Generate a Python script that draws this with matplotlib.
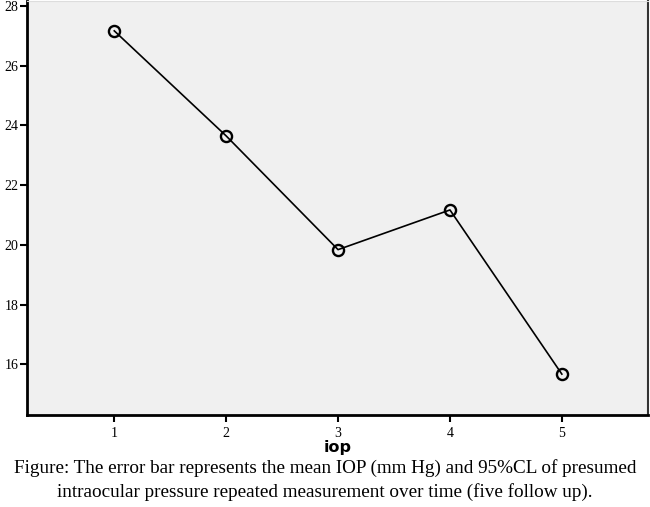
import matplotlib
matplotlib.use("Agg")
import matplotlib.pyplot as plt

# Данные: средний ВГД по визитам
visits = [1, 2, 3, 4, 5]
iop_mean = [27.17, 23.65, 19.84, 21.17, 15.67]
y_ticks = [16, 18, 20, 22, 24, 26, 28]

caption = ("Figure: The error bar represents the mean IOP (mm Hg) and 95%CL of presumed\n"
           "intraocular pressure repeated measurement over time (five follow up).")

fig = plt.figure(figsize=(6.5, 5.07), dpi=100)
ax = fig.add_axes([27 / 650, (507 - 415) / 507, 621 / 650, 414 / 507])
ax.set_facecolor("#f0f0f0")

ax.plot(visits, iop_mean, color="black", linewidth=1.2,
        marker="o", markersize=8, markerfacecolor="none",
        markeredgecolor="black", markeredgewidth=1.7)

ax.set_xlim(0.22, 5.77)
ax.set_ylim(14.3, 28.17)
ax.set_xticks(visits)
ax.set_yticks(y_ticks)

ax.tick_params(axis="both", direction="out", length=5, width=1.5,
               labelsize=10, colors="black")
for lab in ax.get_xticklabels() + ax.get_yticklabels():
    lab.set_family("Liberation Serif")
ax.tick_params(axis="y", pad=1)

ax.spines["left"].set_linewidth(2)
ax.spines["bottom"].set_linewidth(2)
ax.spines["right"].set_linewidth(1.5)
ax.spines["right"].set_color("#333333")
ax.spines["top"].set_color("#dddddd")

ax.set_xlabel("iop", fontsize=11.5, fontweight="bold", family="DejaVu Sans", labelpad=0)

fig.text(0.5, 1 - 480 / 507, caption, ha="center", va="center",
         family="Liberation Serif", fontsize=13.8, linespacing=1.45)

plt.savefig("out.png", dpi=100)
